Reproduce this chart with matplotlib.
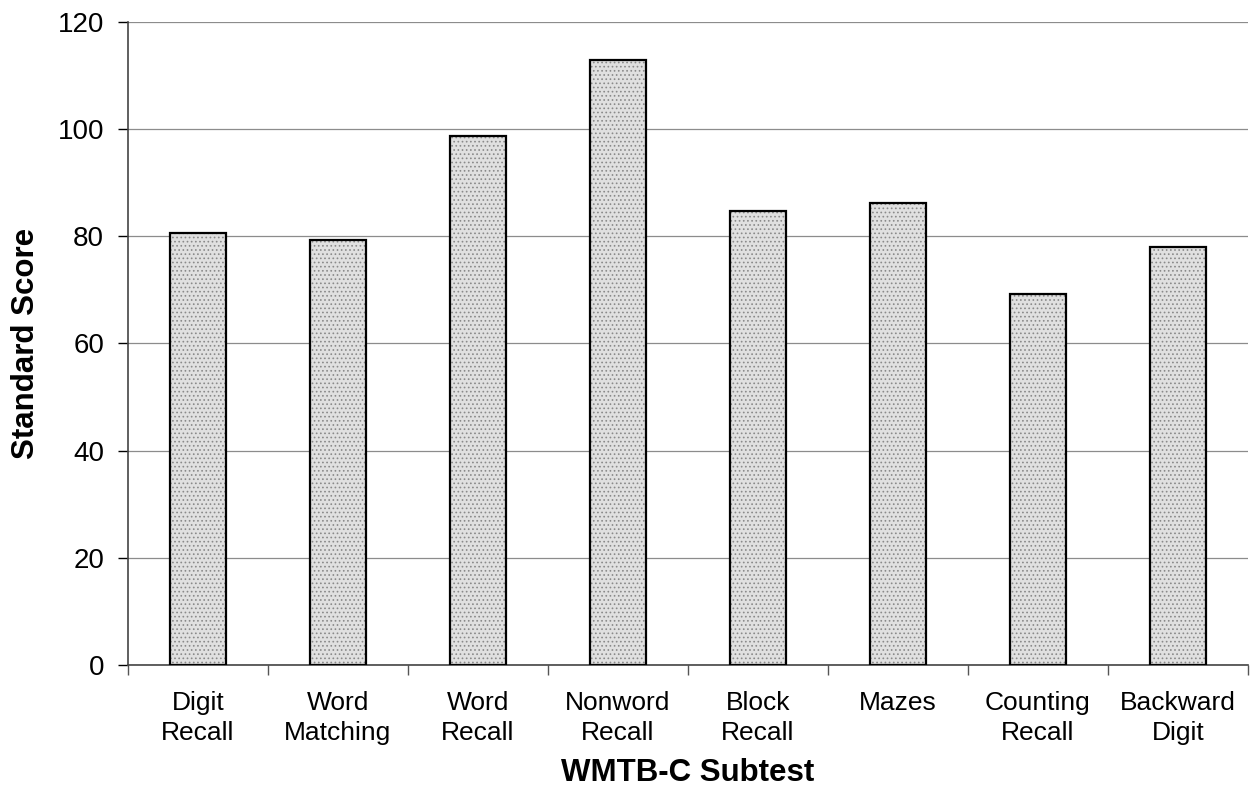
import numpy as np
import matplotlib
matplotlib.use("Agg")
from matplotlib import pyplot as plt

subtests = ['Digit\nRecall', 'Word\nMatching', 'Word\nRecall', 'Nonword\nRecall',
            'Block\nRecall', 'Mazes', 'Counting\nRecall', 'Backward\nDigit']
scores = [80.7, 79.4, 98.7, 113.0, 84.7, 86.3, 69.3, 78.0]

plt.rcParams['font.family'] = ['Liberation Sans', 'DejaVu Sans']
plt.rcParams['hatch.linewidth'] = 0.7

fig = plt.figure(figsize=(12.53, 8.01), dpi=100)
ax = fig.add_axes([0.102, 0.170, 0.894, 0.8025])

x = np.arange(len(subtests))
# grey base, dotted stipple on top, then a black outline
ax.bar(x, scores, width=0.4, color='#e0e0e0', linewidth=0, zorder=2)
ax.bar(x, scores, width=0.4, fill=False, hatch='....', edgecolor='#8a8a8a',
       linewidth=0, zorder=3)
ax.bar(x, scores, width=0.4, fill=False, edgecolor='black', linewidth=1.6, zorder=4)

ax.set_xlim(-0.5, len(subtests) - 0.5)
ax.set_ylim(0, 120)
ax.set_yticks(range(0, 121, 20))
ax.yaxis.grid(True, color='#8c8c8c', linewidth=0.9, zorder=0)
ax.set_axisbelow(True)

ax.set_xticks(x)
ax.set_xticklabels(subtests, fontsize=19, linespacing=1.32)
ax.set_xticks(np.arange(-0.5, len(subtests) + 0.5, 1), minor=True)
ax.tick_params(axis='x', which='major', length=0, pad=19)
ax.tick_params(axis='x', which='minor', length=7, width=1, color='#555555')
ax.tick_params(axis='y', labelsize=20, length=7, width=1, pad=10)

for side in ('top', 'right'):
    ax.spines[side].set_visible(False)
for side in ('left', 'bottom'):
    ax.spines[side].set_color('#444444')
    ax.spines[side].set_linewidth(1.2)

ax.set_ylabel('Standard Score', fontsize=22.5, fontweight='bold', labelpad=12)
ax.set_xlabel('WMTB-C Subtest', fontsize=22.5, fontweight='bold', labelpad=9)

fig.savefig('out.png', dpi=100)
